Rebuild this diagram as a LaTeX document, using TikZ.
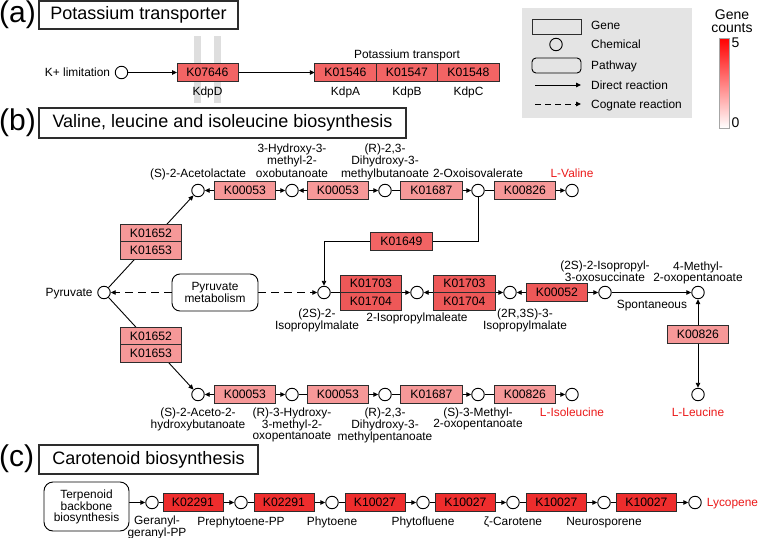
\documentclass[tikz,border=0pt]{standalone}
\usepackage{fontspec}
\setmainfont{Liberation Sans}
\usetikzlibrary{arrows.meta,positioning}

\definecolor{edgegray}{RGB}{45,45,45}
\definecolor{cntfour}{RGB}{238,45,45}
\definecolor{cntthree}{RGB}{242,100,100}
\definecolor{cntthreeb}{RGB}{238,88,88}
\definecolor{cnttwo}{RGB}{246,152,152}
\definecolor{legendgray}{RGB}{228,228,228}
\definecolor{bargray}{RGB}{222,222,222}
\definecolor{prodred}{RGB}{235,25,25}

\pgfdeclarelayer{bg}
\pgfsetlayers{bg,main}

\tikzset{
	lbl/.style={font=\fontsize{11.9}{11}\selectfont, inner sep=0pt, align=center},
	product/.style={lbl, text=prodred},
	scalelbl/.style={inner sep=0pt, align=center, font=\fontsize{14}{13.5}\selectfont},
	gene/.style={draw=edgegray, line width=0.9pt, minimum width=61.5pt, minimum height=17.5pt, inner sep=0pt, outer sep=0pt, font=\fontsize{12.2}{12}\selectfont},
	chem/.style={circle, draw=black, line width=0.9pt, fill=white, minimum size=12.5pt, inner sep=0pt},
	pathway/.style={draw=black, line width=0.9pt, rounded corners=8pt, fill=white, align=center, inner sep=0pt, font=\fontsize{11.9}{11}\selectfont},
	titlebox/.style={draw=edgegray, line width=1.1pt, inner sep=0pt, font=\fontsize{18}{18}\selectfont},
	paneltag/.style={anchor=west, inner sep=0pt, font=\fontsize{30}{30}\selectfont},
	rxn/.style={line width=0.9pt, -{Triangle[length=5pt,width=4.5pt]}},
	link/.style={line width=0.9pt},
	cognate/.style={rxn, dash pattern=on 8pt off 5pt},
}

\begin{document}
\begin{tikzpicture}[x=1pt, y=-1pt]
	\useasboundingbox (0,0) rectangle (758,538);

	% Panel (a): potassium transporter
	\fill[bargray] (194,36) rectangle (201,103);
	\fill[bargray] (214,36) rectangle (221,103);
	\node[paneltag] (tagA) at (-1,14.5) {(a)};
	\node[titlebox, minimum width=199pt, minimum height=28pt] (titleA) at (138.5,15) {Potassium transporter};
	\node[chem] (kplus) at (121.5,72.5) {};
	\node[lbl, anchor=base east] (kplusLbl) at ([xshift=-4.5pt, yshift=-4pt]kplus.west) {K+ limitation};
	\node[gene, fill=cntthree, minimum width=61pt] (kdpd) at (207.5,72.5) {K07646};
	\node[gene, fill=cntthree] (kdpa) at (345.5,72.5) {K01546};
	\node[gene, fill=cntthree, right=0pt of kdpa] (kdpb) {K01547};
	\node[gene, fill=cntthree, right=0pt of kdpb] (kdpc) {K01548};
	\node[lbl, below=5pt of kdpd] (kdpdLbl) {KdpD};
	\node[lbl, below=5pt of kdpa] (kdpaLbl) {KdpA};
	\node[lbl, below=5pt of kdpb] (kdpbLbl) {KdpB};
	\node[lbl, below=5pt of kdpc] (kdpcLbl) {KdpC};
	\node[lbl, anchor=base] (kdpLbl) at ([yshift=5pt]kdpb.north) {Potassium transport};

	% Legend and colour scale
	\node[fill=legendgray, minimum width=170pt, minimum height=110pt, inner sep=0pt] (legend) at (607,63) {};
	\node[gene, minimum width=49pt, minimum height=15pt] (legGene) at (556.5,26.5) {};
	\node[chem, fill=none] (legChem) at (556,44.5) {};
	\node[pathway, fill=none, minimum width=49pt, minimum height=15pt, rounded corners=4pt] (legPath) at (556.5,65.5) {};
	\coordinate (legD1) at (535,85);
	\coordinate (legD2) at (581,85);
	\coordinate (legC1) at (535,104);
	\coordinate (legC2) at (581,104);
	\draw[rxn] (legD1) -- (legD2);
	\draw[cognate, dash pattern=on 6pt off 4pt] (legC1) -- (legC2);
	\node[lbl, anchor=base west] (legGeneTxt) at (591,29.5) {Gene};
	\node[lbl, anchor=base west] (legChemTxt) at (591,48.5) {Chemical};
	\node[lbl, anchor=base west] (legPathTxt) at (591,69) {Pathway};
	\node[lbl, anchor=base west] (legDirTxt) at (591,89.5) {Direct reaction};
	\node[lbl, anchor=base west] (legCogTxt) at (591,108.5) {Cognate reaction};
	\shade[top color=red, bottom color=white] (719.5,38) rectangle (729,128);
	\draw[gray!70, line width=0.6pt] (719.5,38) rectangle (729,128);
	\node[scalelbl] (scaleTitle) at (732,21) {Gene\\counts};
	\node[scalelbl, anchor=west] (scaleMax) at (731.5,43) {5};
	\node[scalelbl, anchor=west] (scaleMin) at (731.5,123) {0};

	% Panel (b): valine, leucine and isoleucine
	\node[paneltag] (tagB) at (-1,122.5) {(b)};
	\node[titlebox, minimum width=367pt, minimum height=30pt] (titleB) at (222.5,123) {Valine, leucine and isoleucine biosynthesis};
	% top row
	\node[chem] (cAcl) at (198,190.5) {};
	\node[gene, fill=cnttwo] (gIlvC1) at (245,190.5) {K00053};
	\node[chem] (cHmob) at (292,190.5) {};
	\node[gene, fill=cnttwo] (gIlvC2) at (338,190.5) {K00053};
	\node[chem] (cDhmb) at (385,190.5) {};
	\node[gene, fill=cnttwo] (gIlvD1) at (431.5,190.5) {K01687};
	\node[chem] (cKiv) at (478,190.5) {};
	\node[gene, fill=cnttwo] (gIlvE1) at (525,190.5) {K00826};
	\node[chem] (cVal) at (572,190.5) {};
	\node[lbl, anchor=base] (lAcl) at ([yshift=13.5pt]cAcl.center) {(S)-2-Acetolactate};
	\node[lbl, anchor=base] (lHmob) at ([yshift=13.5pt]cHmob.center) {3-Hydroxy-3-\\methyl-2-\\oxobutanoate};
	\node[lbl, anchor=base] (lDhmb) at ([yshift=13.5pt]cDhmb.center) {(R)-2,3-\\Dihydroxy-3-\\methylbutanoate};
	\node[lbl, anchor=base] (lKiv) at ([yshift=13.5pt]cKiv.center) {2-Oxoisovalerate};
	\node[product, anchor=base] (lVal) at ([yshift=13.5pt]cVal.center) {L-Valine};
	% middle row
	\node[chem] (cPyr) at (104,292.5) {};
	\node[lbl, anchor=base east] (lPyr) at ([xshift=-4.5pt, yshift=-4pt]cPyr.west) {Pyruvate};
	\node[gene, fill=cnttwo] (gIlvB1) at (151,233) {K01652};
	\node[gene, fill=cnttwo, below=0pt of gIlvB1] (gIlvN1) {K01653};
	\node[gene, fill=cnttwo] (gIlvB2) at (151,336) {K01652};
	\node[gene, fill=cnttwo, below=0pt of gIlvB2] (gIlvN2) {K01653};
	\node[pathway, minimum width=86pt, minimum height=37pt] (pPyr) at (215,292.5) {Pyruvate\\metabolism};
	\node[gene, fill=cntthree] (gLeuA) at (401.5,241.5) {K01649};
	\node[chem] (cIpm) at (324,292.5) {};
	\node[gene, fill=cntthreeb] (gLeuC1) at (371,283.75) {K01703};
	\node[gene, fill=cntthreeb, below=0pt of gLeuC1] (gLeuD1) {K01704};
	\node[chem] (cIpml) at (417,292.5) {};
	\node[gene, fill=cntthreeb] (gLeuC2) at (464.5,283.75) {K01703};
	\node[gene, fill=cntthreeb, below=0pt of gLeuC2] (gLeuD2) {K01704};
	\node[chem] (cRipm) at (510,292.5) {};
	\node[gene, fill=cntthreeb] (gLeuB) at (557,292.5) {K00052};
	\node[chem] (cOxs) at (605,292.5) {};
	\node[chem] (cMop) at (698,292.5) {};
	\node[gene, fill=cnttwo] (gIlvE3) at (698,334.5) {K00826};
	\node[chem] (cLeu) at (698,394.5) {};
	\node[lbl, anchor=north] (lIpm) at ([xshift=-7pt, yshift=-9.5pt]cIpm.south) {(2S)-2-\\Isopropylmalate};
	\node[lbl, anchor=north] (lIpml) at (417,312.5) {2-Isopropylmaleate};
	\node[lbl, anchor=north] (lRipm) at ([xshift=15pt, yshift=-9.5pt]cRipm.south) {(2R,3S)-3-\\Isopropylmalate};
	\node[lbl, anchor=base] (lOxs) at ([yshift=11pt]cOxs.center) {(2S)-2-Isopropyl-\\3-oxosuccinate};
	\node[lbl, anchor=base] (lMop) at ([yshift=11pt]cMop.center) {4-Methyl-\\2-oxopentanoate};
	\node[lbl, anchor=north] (lSpont) at (652,299.5) {Spontaneous};
	\node[product, anchor=north] (lLeu) at ([yshift=-6pt]cLeu.south) {L-Leucine};
	% bottom row
	\node[chem] (cAhb) at (198,394.5) {};
	\node[gene, fill=cnttwo] (gIlvC3) at (245,394.5) {K00053};
	\node[chem] (cHmop) at (292,394.5) {};
	\node[gene, fill=cnttwo] (gIlvC4) at (338,394.5) {K00053};
	\node[chem] (cDhmp) at (385,394.5) {};
	\node[gene, fill=cnttwo] (gIlvD2) at (431.5,394.5) {K01687};
	\node[chem] (cMop2) at (478,394.5) {};
	\node[gene, fill=cnttwo] (gIlvE2) at (525,394.5) {K00826};
	\node[chem] (cIle) at (572,394.5) {};
	\node[lbl, anchor=north] (lAhb) at ([yshift=-6pt]cAhb.south) {(S)-2-Aceto-2-\\hydroxybutanoate};
	\node[lbl, anchor=north] (lHmop) at ([yshift=-6pt]cHmop.south) {(R)-3-Hydroxy-\\3-methyl-2-\\oxopentanoate};
	\node[lbl, anchor=north] (lDhmp) at ([yshift=-6pt]cDhmp.south) {(R)-2,3-\\Dihydroxy-3-\\methylpentanoate};
	\node[lbl, anchor=north] (lMop2) at ([yshift=-6pt]cMop2.south) {(S)-3-Methyl-\\2-oxopentanoate};
	\node[product, anchor=north] (lIle) at ([yshift=-6pt]cIle.south) {L-Isoleucine};

	% Panel (c): carotenoid
	\node[paneltag] (tagC) at (-1,459) {(c)};
	\node[titlebox, minimum width=219pt, minimum height=29pt] (titleC) at (148.5,459.5) {Carotenoid biosynthesis};
	\node[pathway, minimum width=85pt, minimum height=49pt, rounded corners=9pt] (pTerp) at (86.5,506.5) {Terpenoid\\backbone\\biosynthesis};
	\node[chem] (cGgpp) at (152,502.5) {};
	\node[gene, fill=cntfour, minimum width=60pt, minimum height=18pt] (gCrtB1) at (193,502.5) {K02291};
	\node[chem] (cPpp) at (241,502.5) {};
	\node[gene, fill=cntfour, minimum width=60pt, minimum height=18pt] (gCrtB2) at (284,502.5) {K02291};
	\node[chem] (cPhy) at (332,502.5) {};
	\node[gene, fill=cntfour, minimum width=60pt, minimum height=18pt] (gCrtI1) at (375,502.5) {K10027};
	\node[chem] (cPfl) at (423,502.5) {};
	\node[gene, fill=cntfour, minimum width=60pt, minimum height=18pt] (gCrtI2) at (465.5,502.5) {K10027};
	\node[chem] (cZc) at (513,502.5) {};
	\node[gene, fill=cntfour, minimum width=60pt, minimum height=18pt] (gCrtI3) at (556.5,502.5) {K10027};
	\node[chem] (cNeu) at (604,502.5) {};
	\node[gene, fill=cntfour, minimum width=60pt, minimum height=18pt] (gCrtI4) at (646.5,502.5) {K10027};
	\node[chem] (cLyc) at (695,502.5) {};
	\node[product, anchor=base west] (lLyc) at ([xshift=5pt, yshift=-4pt]cLyc.east) {Lycopene};
	\node[lbl, anchor=north, font=\fontsize{11.9}{10.5}\selectfont] (lGgpp) at ([xshift=5pt, yshift=-6.5pt]cGgpp.south) {Geranyl-\\geranyl-PP};
	\node[lbl, anchor=north] (lPpp) at ([yshift=-7.5pt]cPpp.south) {Prephytoene-PP};
	\node[lbl, anchor=north] (lPhy) at ([yshift=-7.5pt]cPhy.south) {Phytoene};
	\node[lbl, anchor=north] (lPfl) at ([yshift=-7.5pt]cPfl.south) {Phytofluene};
	\node[lbl, anchor=north] (lZc) at ([yshift=-7.5pt]cZc.south) {ζ-Carotene};
	\node[lbl, anchor=north] (lNeu) at ([yshift=-7.5pt]cNeu.south) {Neurosporene};

	% Reactions
	\begin{pgfonlayer}{bg}
		\draw[rxn] (kplus) -- (kdpd);
		\draw[rxn] (kdpd) -- (kdpa);
		\draw[rxn] (cPyr) -- (cAcl);
		\draw[rxn] (cPyr) -- (cAhb);
		\draw[rxn] (gIlvC1) -- (cAcl);
		\draw[rxn] (gIlvC1) -- (cHmob);
		\draw[rxn] (gIlvC2) -- (cHmob);
		\draw[rxn] (gIlvC2) -- (cDhmb);
		\draw[link] (cDhmb) -- (gIlvD1);
		\draw[rxn] (gIlvD1) -- (cKiv);
		\draw[link] (cKiv) -- (gIlvE1);
		\draw[rxn] (gIlvE1) -- (cVal);
		\draw[link] (cKiv) |- (gLeuA);
		\draw[rxn] (gLeuA) -| (cIpm);
		\draw[cognate] (pPyr) -- (cPyr);
		\draw[cognate] (pPyr) -- (cIpm);
		\draw[link] (cIpm) -- (gLeuC1.south west);
		\draw[rxn] (gLeuC1.south east) -- (cIpml);
		\draw[rxn] (gLeuC2.south west) -- (cIpml);
		\draw[rxn] (gLeuC2.south east) -- (cRipm);
		\draw[rxn] (gLeuB) -- (cRipm);
		\draw[rxn] (gLeuB) -- (cOxs);
		\draw[rxn] (cOxs) -- (cMop);
		\draw[rxn] (gIlvE3) -- (cMop);
		\draw[rxn] (gIlvE3) -- (cLeu);
		\draw[rxn] (gIlvC3) -- (cAhb);
		\draw[rxn] (gIlvC3) -- (cHmop);
		\draw[link] (cHmop) -- (gIlvC4);
		\draw[rxn] (gIlvC4) -- (cDhmp);
		\draw[link] (cDhmp) -- (gIlvD2);
		\draw[rxn] (gIlvD2) -- (cMop2);
		\draw[link] (cMop2) -- (gIlvE2);
		\draw[rxn] (gIlvE2) -- (cIle);
		\draw[rxn] (pTerp.east |- cGgpp) -- (cGgpp);
		\draw[link] (cGgpp) -- (gCrtB1);
		\draw[rxn] (gCrtB1) -- (cPpp);
		\draw[link] (cPpp) -- (gCrtB2);
		\draw[rxn] (gCrtB2) -- (cPhy);
		\draw[link] (cPhy) -- (gCrtI1);
		\draw[rxn] (gCrtI1) -- (cPfl);
		\draw[link] (cPfl) -- (gCrtI2);
		\draw[rxn] (gCrtI2) -- (cZc);
		\draw[link] (cZc) -- (gCrtI3);
		\draw[rxn] (gCrtI3) -- (cNeu);
		\draw[link] (cNeu) -- (gCrtI4);
		\draw[rxn] (gCrtI4) -- (cLyc);
	\end{pgfonlayer}
\end{tikzpicture}
\end{document}
